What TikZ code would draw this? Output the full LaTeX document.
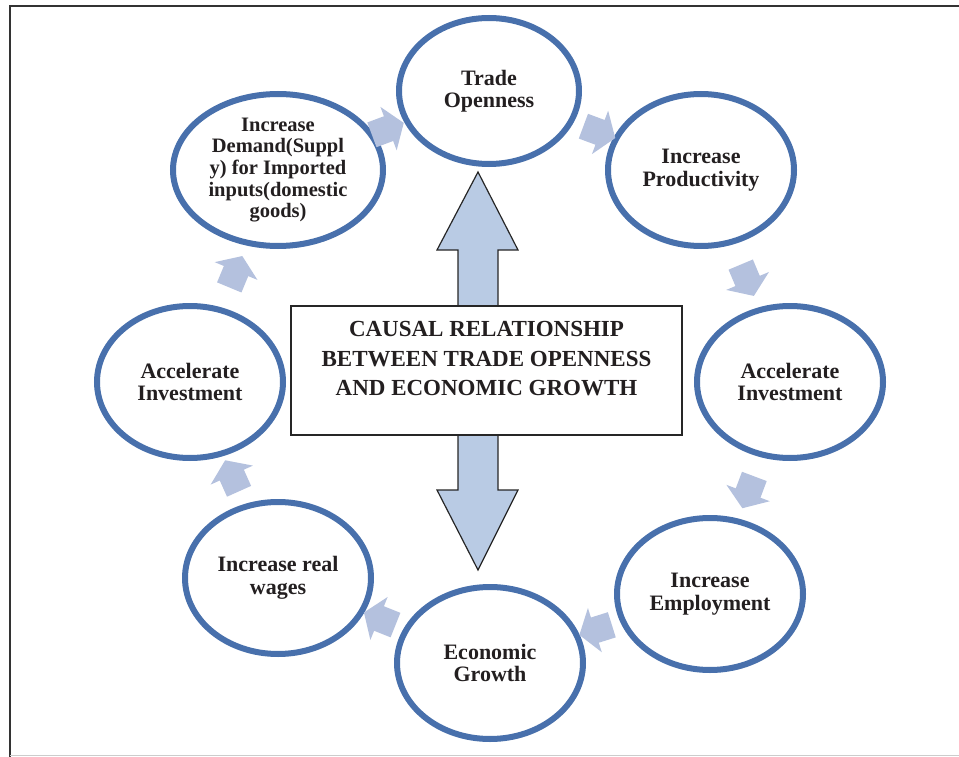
\documentclass[tikz,border=0pt]{standalone}
\usepackage{fontspec}
\setmainfont{Liberation Serif}
\usepackage{xcolor}
\usepackage{tikz}
\usetikzlibrary{calc,positioning,shapes.geometric,shapes.arrows,shadows}
\definecolor{ring}{RGB}{72, 112, 172}
\definecolor{cycfill}{RGB}{180, 193, 222}
\definecolor{bigfill}{RGB}{185, 203, 228}
\definecolor{ink}{RGB}{35, 31, 32}

\begin{document}
\begin{tikzpicture}[x=1pt,y=-1pt,
  stage/.style={ellipse,draw=ring,line width=6pt,fill=white,inner sep=0pt,
    minimum width=186pt,minimum height=152pt,align=center,text=ink,
    font=\fontsize{22}{22.5}\selectfont\bfseries,
    drop shadow={opacity=0.18,shadow xshift=1.5pt,shadow yshift=-2.5pt}},
  cycarrow/.style={single arrow,fill=cycfill,inner xsep=0pt,inner ysep=13pt,
    minimum height=34pt,single arrow head extend=10pt,single arrow tip angle=110},
  bigarrow/.style={fill=bigfill,draw=black!85,line width=1.2pt,line join=miter}]
\useasboundingbox (0,0) rectangle (959,757);
\draw[black!80,line width=2pt] (959,6) -- (10,6) -- (10,757);
\draw[black!20,line width=1pt] (10,755.5) -- (959,755.5);

\draw[bigarrow] (458,306) -- (458,250) -- (437,250) -- (478,172) -- (518,250) -- (498,250) -- (498,306);
\draw[bigarrow] (458,435) -- (458,490) -- (437,490) -- (478,570) -- (518,490) -- (498,490) -- (498,435);
\node[draw=black!85,line width=1.2pt,fill=white,minimum width=391pt,minimum height=129pt,inner sep=0pt] (causal) at (486.5,370.5) {};
\node[below=16pt of causal.north,align=center,text=ink,inner sep=0pt,font=\fontsize{23}{29.5}\selectfont\bfseries] (causaltext) {CAUSAL RELATIONSHIP\\BETWEEN TRADE OPENNESS\\AND ECONOMIC GROWTH};

\node[stage,minimum width=180pt,minimum height=146pt] (trade) at (489,91) {Trade\\Openness};
\node[stage] (prod) at (701,170) {Increase\\Productivity};
\node[stage] (investr) at (790,382) {Accelerate\\Investment};
\node[stage] (employ) at (710,594) {Increase\\Employment};
\node[stage] (growth) at (490,663) {Economic\\Growth};
\node[stage] (wages) at (278,578) {Increase real\\wages};
\node[stage] (investl) at (190,382) {Accelerate\\Investment};
\node[stage,minimum width=210pt,font=\fontsize{20.5}{21.7}\selectfont\bfseries] (demand) at (278,170) {Increase\\Demand(Suppl\\y) for Imported\\inputs(domestic\\goods)};

\foreach \a/\b in {demand/trade,trade/prod,prod/investr,investr/employ,employ/growth,growth/wages,wages/investl,investl/demand}
  \path let \p1=($(\b)-(\a)$), \n1={atan2(\y1,\x1)} in
    node[cycarrow,rotate=\n1] (\a-\b) at ($(\a)!0.5!(\b)$) {};
\end{tikzpicture}
\end{document}
